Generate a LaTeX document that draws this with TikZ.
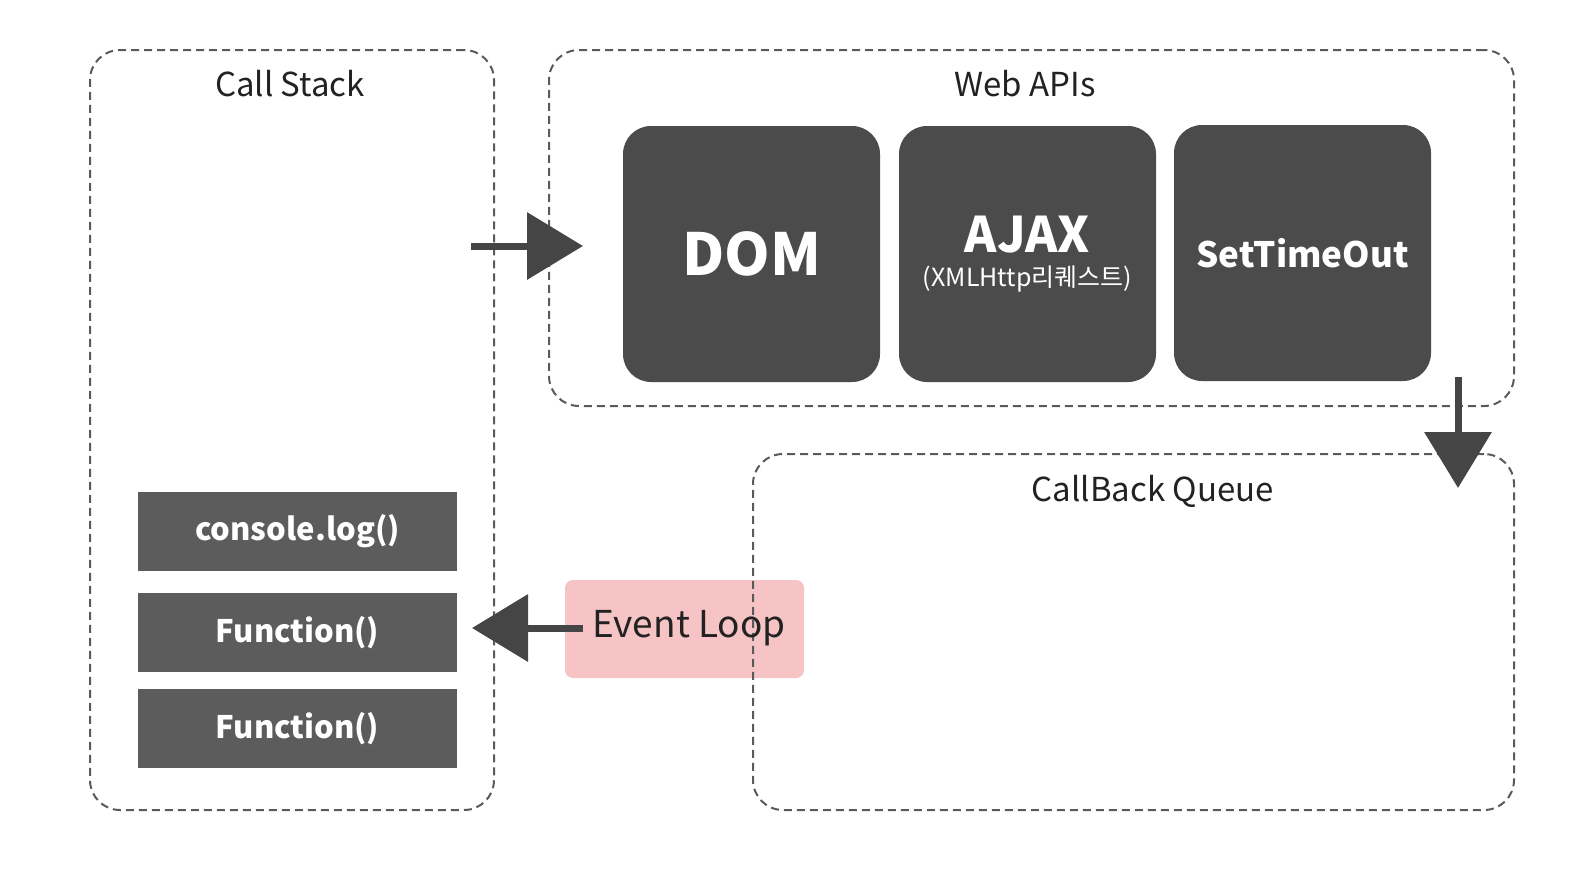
\documentclass[tikz,border=0pt]{standalone}
\usepackage{fontspec}
\setmainfont{Noto Sans CJK KR}
\usetikzlibrary{arrows.meta}

\definecolor{apigray}{HTML}{4B4B4B}
\definecolor{stackgray}{HTML}{5C5C5C}
\definecolor{looppink}{HTML}{F6C4C4}
\definecolor{linegray}{HTML}{5A5A5A}
\definecolor{arrowgray}{HTML}{454545}
\definecolor{textdark}{HTML}{222222}

\tikzset{
  area/.style={draw=linegray, line width=2pt, dash pattern=on 8pt off 5pt, rounded corners=30pt},
  areatitle/.style={text=textdark, font=\fontsize{33}{38}\selectfont},
  apibox/.style={fill=apigray, rounded corners=28pt, text=white, align=center,
    minimum width=257pt, minimum height=256pt},
  stackbox/.style={fill=stackgray, text=white, minimum width=319pt, minimum height=79pt,
    font=\bfseries\fontsize{31}{36}\selectfont},
  bigarrow/.style={draw=arrowgray, line width=7pt, -{Triangle[length=56pt,width=66pt]}}
}

\begin{document}
\begin{tikzpicture}[x=1pt, y=-1pt]
\useasboundingbox (0,0) rectangle (1576,868);

% containers
\node[area, minimum width=404pt, minimum height=760pt] (callstack) at (292,430) {};
\node[area, minimum width=965pt, minimum height=356pt] (webapis) at (1031.5,228) {};

\node[areatitle] (stacktitle) at (290,84) {Call Stack};
\node[areatitle] (apititle) at (1025,84) {Web APIs};
\node[areatitle] (queuetitle) at (1153,491) {CallBack Queue};

% web apis
\node[apibox, font=\bfseries\fontsize{58}{70}\selectfont] (dom) at (751.5,254) {DOM};
\node[apibox, font=\bfseries\fontsize{49}{34}\selectfont] (ajax) at (1027.5,254) {AJAX\\
  {\mdseries\fontsize{25}{34}\selectfont (XMLHttp리퀘스트)}};
\node[apibox, font=\bfseries\fontsize{35}{42}\selectfont] (timeout) at (1302.5,253) {SetTimeOut};

% call stack
\node[stackbox] (logcall) at (297.5,531.5) {console.log()};
\node[stackbox] (funcone) at (297.5,632.5) {Function()};
\node[stackbox] (functwo) at (297.5,728.5) {Function()};

% event loop
\node[fill=looppink, rounded corners=8pt, minimum width=239pt, minimum height=98pt] (evloop) at (684.5,629) {};
\node[area, minimum width=761pt, minimum height=356pt] (queue) at (1133.5,632) {};
\node[text=textdark, font=\fontsize{37}{42}\selectfont] (looptext) at (689,628) {Event Loop};

% arrows
\coordinate (stackout) at (471,246);
\coordinate (apiin) at (583,246);
\coordinate (timerout) at (1458,377);
\coordinate (queuein) at (1458,488);
\coordinate (loopout) at (583,628);
\coordinate (stackin) at (472,628);

\draw[bigarrow] (stackout) -- (apiin);
\draw[bigarrow] (timerout) -- (queuein);
\draw[bigarrow] (loopout) -- (stackin);

\end{tikzpicture}
\end{document}
